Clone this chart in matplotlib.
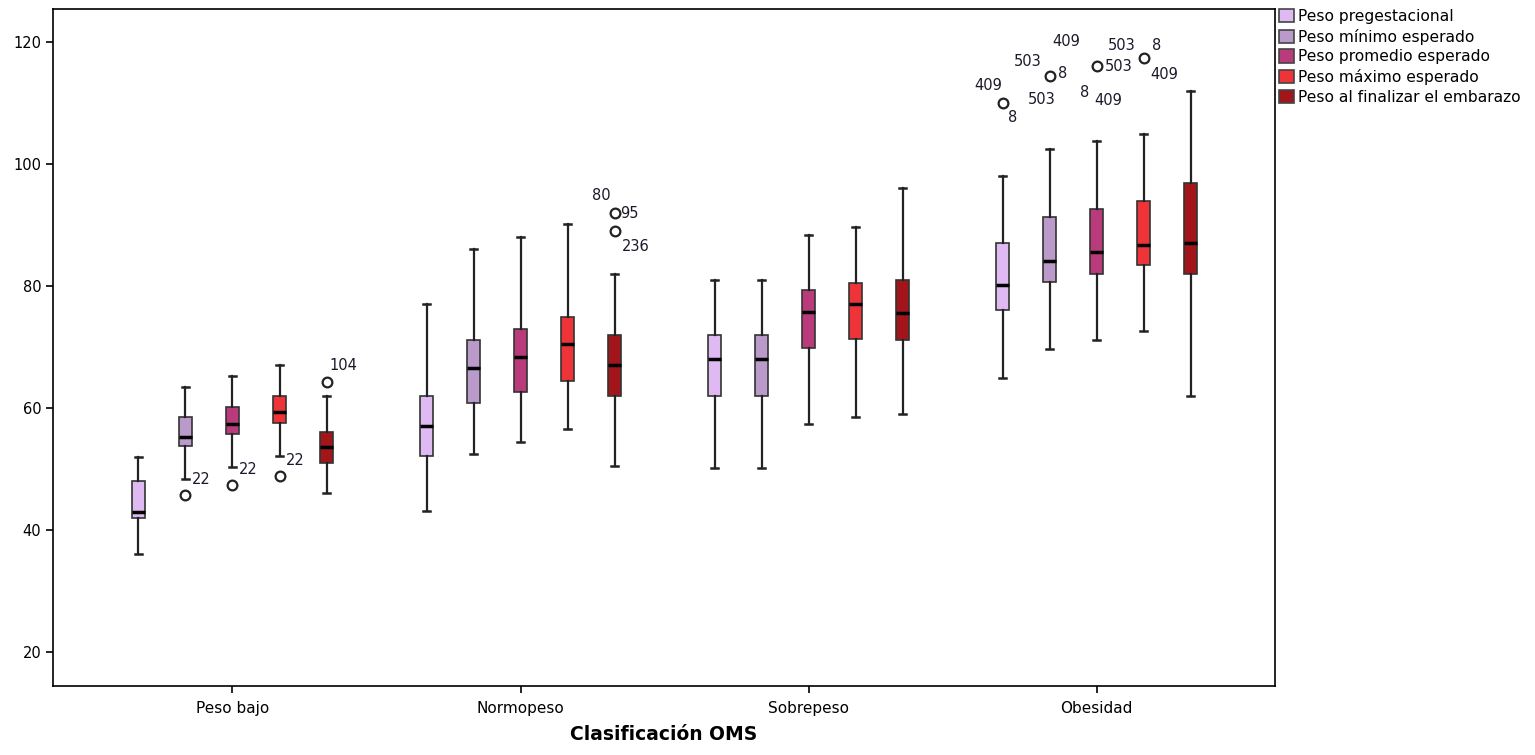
import matplotlib
matplotlib.use("Agg")
import matplotlib.pyplot as plt
from matplotlib.patches import Patch

# Categories and series
categories = ["Peso bajo", "Normopeso", "Sobrepeso", "Obesidad"]
series = ["Peso pregestacional", "Peso mínimo esperado", "Peso promedio esperado",
          "Peso máximo esperado", "Peso al finalizar el embarazo"]
colors = ["#DFB9F2", "#B99AC9", "#BA3B7C", "#EF3439", "#A2161B"]

# five-number summaries per group: [whisker low, q1, median, q3, whisker high]
pregestacional = [[36.1, 42.0, 43.0, 48.0, 52.0],
                  [43.1, 52.1, 57.0, 62.0, 77.0],
                  [50.1, 62.0, 68.0, 72.0, 81.0],
                  [65.0, 76.0, 80.1, 87.0, 98.0]]
minimo = [[48.3, 53.8, 55.3, 58.6, 63.4],
          [52.5, 60.9, 66.5, 71.1, 86.1],
          [50.1, 62.0, 68.0, 72.0, 81.0],
          [69.7, 80.7, 84.1, 91.3, 102.4]]
promedio = [[50.3, 55.8, 57.3, 60.2, 65.3],
            [54.4, 62.7, 68.4, 72.9, 88.0],
            [57.3, 69.8, 75.7, 79.3, 88.3],
            [71.1, 82.0, 85.5, 92.6, 103.7]]
maximo = [[52.2, 57.6, 59.3, 62.0, 67.1],
          [56.6, 64.5, 70.5, 75.0, 90.1],
          [58.6, 71.3, 77.0, 80.5, 89.7],
          [72.6, 83.4, 86.8, 93.9, 105.0]]
final = [[46.0, 51.0, 53.6, 56.0, 62.0],
         [50.5, 61.9, 67.0, 72.0, 82.0],
         [59.0, 71.1, 75.5, 81.0, 96.1],
         [62.0, 82.0, 87.0, 96.9, 112.0]]
summaries = [pregestacional, minimo, promedio, maximo, final]

# outliers: (group, series, value)
outliers = [(0, 1, 45.7), (0, 2, 47.3), (0, 3, 48.9), (0, 4, 64.2),
            (1, 4, 92.0), (1, 4, 89.0),
            (3, 0, 110.0), (3, 1, 114.5), (3, 2, 116.0), (3, 3, 117.3)]
# case labels for each outlier
outlier_labels = [["22"], ["22"], ["22"], ["104"],
                  ["80", "95"], ["236"],
                  ["409", "8"], ["503", "8", "503", "409"], ["503", "8", "409"], ["503", "8", "409"]]
# label offsets in pixels
label_offsets = [[(16, 16)], [(16, 16)], [(16, 15)], [(17, 17)],
                 [(-13, 17), (15, -1)], [(21, -15)],
                 [(-14, 17), (10, -15)], [(-22, 14), (13, 2), (-8, -24), (17, 34)],
                 [(22, 0), (-12, -26), (12, -34)], [(-22, 13), (13, 13), (21, -16)]]

plt.rcParams['font.family'] = ['DejaVu Sans']
fig = plt.figure(figsize=(15.35, 7.55), dpi=100)
ax = fig.add_axes([53 / 1535, 1 - 686 / 755, 1222 / 1535, 677 / 755])

step = 47 / 288
for s, summ in enumerate(summaries):
    stats = []
    pos = []
    for g, (lo, q1, med, q3, hi) in enumerate(summ):
        stats.append(dict(whislo=lo, q1=q1, med=med, q3=q3, whishi=hi, fliers=[]))
        pos.append(g + (s - 2) * step)
    ax.bxp(stats, positions=pos, widths=0.042, capwidths=0.022, patch_artist=True,
           showfliers=False, manage_ticks=False,
           boxprops=dict(facecolor=colors[s], edgecolor="#333333", linewidth=1.2),
           medianprops=dict(color="black", linewidth=2.5),
           whiskerprops=dict(color="#222222", linewidth=1.6),
           capprops=dict(color="#222222", linewidth=1.8))

for (g, s, v), labs, offs in zip(outliers, outlier_labels, label_offsets):
    x = g + (s - 2) * step
    ax.plot(x, v, marker="o", markersize=7, markerfacecolor="white",
            markeredgecolor="#222222", markeredgewidth=1.6, linestyle="none")
    for lab, off in zip(labs, offs):
        ax.annotate(lab, (x, v), xytext=off, textcoords="offset pixels",
                    ha="center", va="center", fontsize=10.5, color="#1a1a2a")

ax.set_xlim((53 - 232.5) / 288, (1275 - 232.5) / 288)
ax.set_ylim(120 - 644 / 6.1, 120 + 33 / 6.1)
ax.set_xticks(range(len(categories)))
ax.set_xticklabels(categories, fontsize=11)
ax.set_yticks([20, 40, 60, 80, 100, 120])
ax.tick_params(axis="y", labelsize=10.5, length=5, width=1.2)
ax.tick_params(axis="x", length=5, width=1.2, pad=6)
for sp in ax.spines.values():
    sp.set_linewidth(1.2)
ax.set_xlabel("Clasificación OMS", fontsize=13.5, fontweight="bold", labelpad=6)

handles = [Patch(facecolor=c, edgecolor="#444444", linewidth=1.2) for c in colors]
fig.legend(handles, series, loc="upper left", bbox_to_anchor=(1279 / 1535, 1 - 9 / 755),
           frameon=False, fontsize=11.2, handlelength=0.95, handleheight=0.95,
           handletextpad=0.25, labelspacing=0.3, borderpad=0, borderaxespad=0)

fig.savefig("out.png", dpi=100)
